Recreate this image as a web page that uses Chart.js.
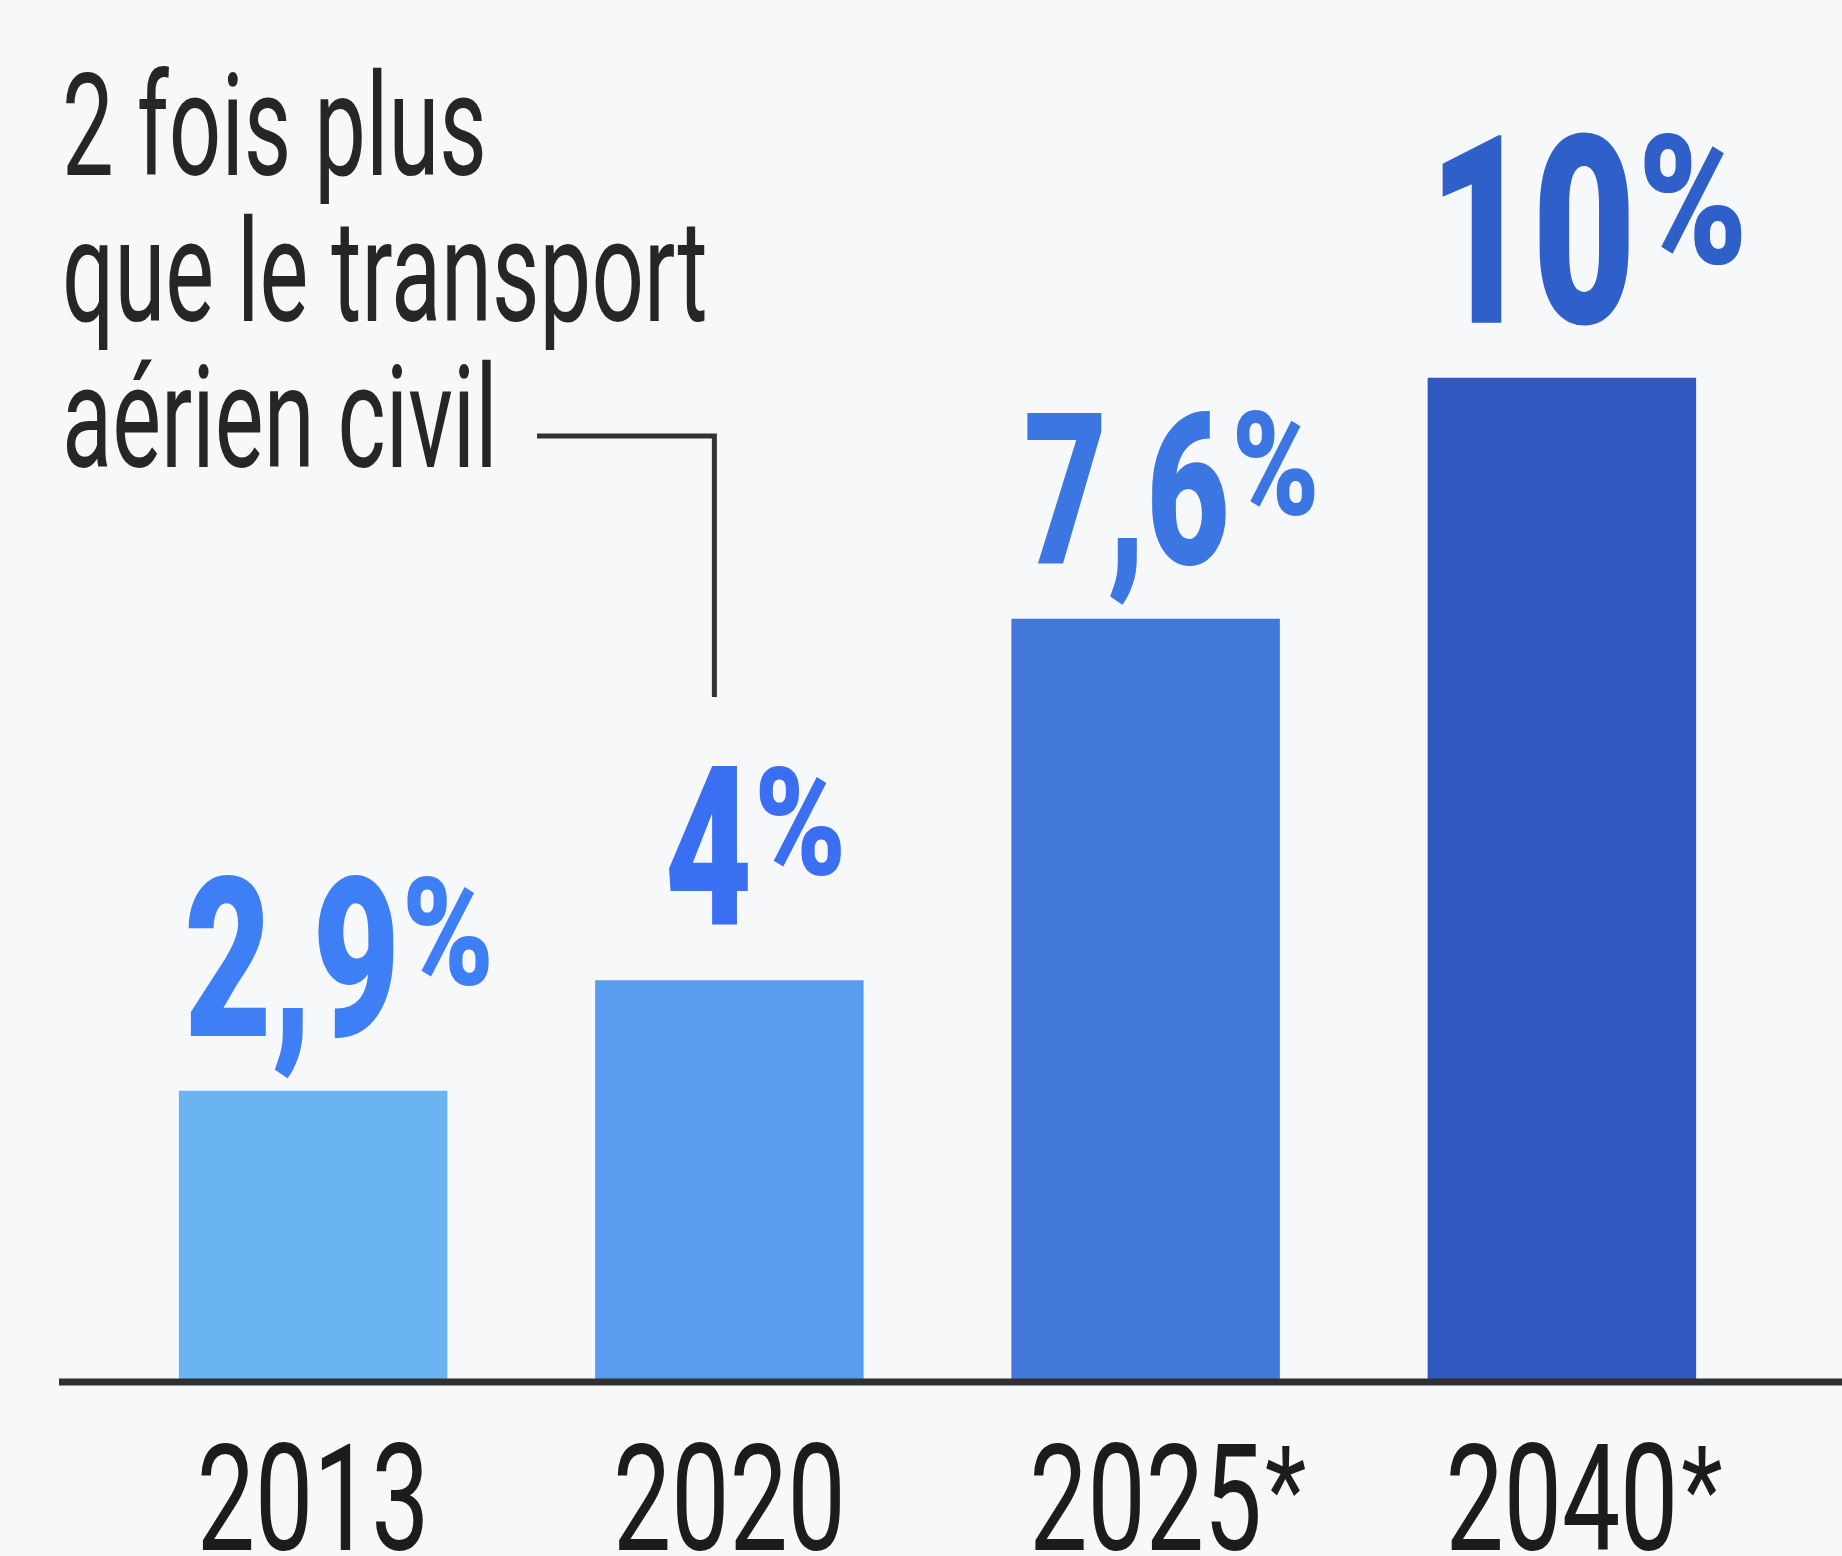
<!DOCTYPE html>
<html>
<head>
<meta charset="utf-8">
<script src="https://cdn.jsdelivr.net/npm/chart.js@4"></script>
<style>
  html, body { margin: 0; padding: 0; background: #f7f8fa; }
  #wrap { width: 1842px; height: 1556px; position: relative; }
</style>
</head>
<body>
<div id="wrap"><canvas id="chart"></canvas></div>
<script>
const categories = ['2013', '2020', '2025*', '2040*'];
const shares = [2.9, 4, 7.6, 10];
const valueLabels = ['2,9%', '4%', '7,6%', '10%'];
const noteLines = ['2 fois plus', 'que le transport', 'aérien civil'];

const barColors = ['#6ab4f1', '#589cf0', '#4178d9', '#3157c0'];
const labelColors = ['#3f7ff6', '#3a6ff2', '#3c76e2', '#2f5fc9'];
const labelSizes = [222, 222, 212, 264];

// condensed text: no condensed face installed, so squeeze horizontally
function squeezed(ctx, text, x, y, sx) {
    ctx.save();
    ctx.translate(x, y);
    ctx.scale(sx, 1);
    ctx.fillText(text, 0, 0);
    ctx.restore();
}

const overlay = {
    id: 'overlay',
    afterDraw(chart) {
        const ctx = chart.ctx;
        const x = chart.scales.x, y = chart.scales.y;
        const base = y.getPixelForValue(0);
        const meta = chart.getDatasetMeta(0);

        // baseline
        ctx.save();
        ctx.strokeStyle = '#303030';
        ctx.lineWidth = 7;
        ctx.beginPath();
        ctx.moveTo(59, base);
        ctx.lineTo(chart.width, base);
        ctx.stroke();
        ctx.restore();

        // category labels
        ctx.save();
        ctx.fillStyle = '#1c1c1c';
        ctx.textBaseline = 'alphabetic';
        ctx.textAlign = 'left';
        categories.forEach((c, i) => {
            const year = c.replace('*', '');
            const sx = 0.7;
            ctx.font = '400 148px Roboto';
            const w = ctx.measureText(year).width * sx;
            const cx = x.getPixelForValue(i);
            squeezed(ctx, year, cx - w / 2, base + 168, sx);
            if (c.endsWith('*')) {
                ctx.font = '400 120px Roboto';
                squeezed(ctx, '*', cx + w / 2 + 3, base + 150, 0.8);
            }
        });
        ctx.restore();

        // value labels
        ctx.save();
        ctx.textBaseline = 'alphabetic';
        ctx.textAlign = 'left';
        meta.data.forEach((bar, i) => {
            const s = labelSizes[i];
            const num = valueLabels[i].replace('%', '');
            ctx.fillStyle = labelColors[i];
            ctx.font = '900 ' + s + 'px Roboto';
            const nsx = 0.68;
            const nw = ctx.measureText(num).width * nsx;
            const ps = Math.round(s * 0.68);
            ctx.font = '900 ' + ps + 'px Roboto';
            const psx = 0.82;
            const pw = ctx.measureText('%').width * psx;
            const left = bar.x + 25 - (nw + pw) / 2;
            const baseY = bar.y - 55;
            ctx.font = '900 ' + s + 'px Roboto';
            squeezed(ctx, num, left, baseY, nsx);
            ctx.font = '900 ' + ps + 'px Roboto';
            const digitH = s * 0.711, pctH = ps * 0.711;
            squeezed(ctx, '%', left + nw + 2, baseY - digitH + pctH, psx);
        });
        ctx.restore();

        // annotation
        ctx.save();
        ctx.fillStyle = '#262626';
        ctx.textAlign = 'left';
        ctx.textBaseline = 'alphabetic';
        ctx.font = '400 143px Roboto';
        noteLines.forEach((t, i) => squeezed(ctx, t, 62, 175 + i * 146, 0.645));
        const p = meta.data[1];
        ctx.strokeStyle = '#333';
        ctx.lineWidth = 5;
        ctx.beginPath();
        ctx.moveTo(537, 436);
        ctx.lineTo(p.x - 15, 436);
        ctx.lineTo(p.x - 15, 697);
        ctx.stroke();
        ctx.restore();
    }
};

new Chart(document.getElementById('chart'), {
    type: 'bar',
    data: {
        labels: categories,
        datasets: [{
            data: shares,
            backgroundColor: barColors,
            borderWidth: 0,
            barPercentage: 0.645,
            categoryPercentage: 1
        }]
    },
    options: {
        responsive: true,
        maintainAspectRatio: false,
        animation: false,
        layout: { padding: { left: 105, right: 72, top: 177, bottom: 174 } },
        plugins: {
            legend: { display: false },
            tooltip: { enabled: false }
        },
        scales: {
            x: { display: false, offset: true },
            y: { display: false, min: 0, max: 12 }
        }
    },
    plugins: [overlay]
});
</script>
</body>
</html>
